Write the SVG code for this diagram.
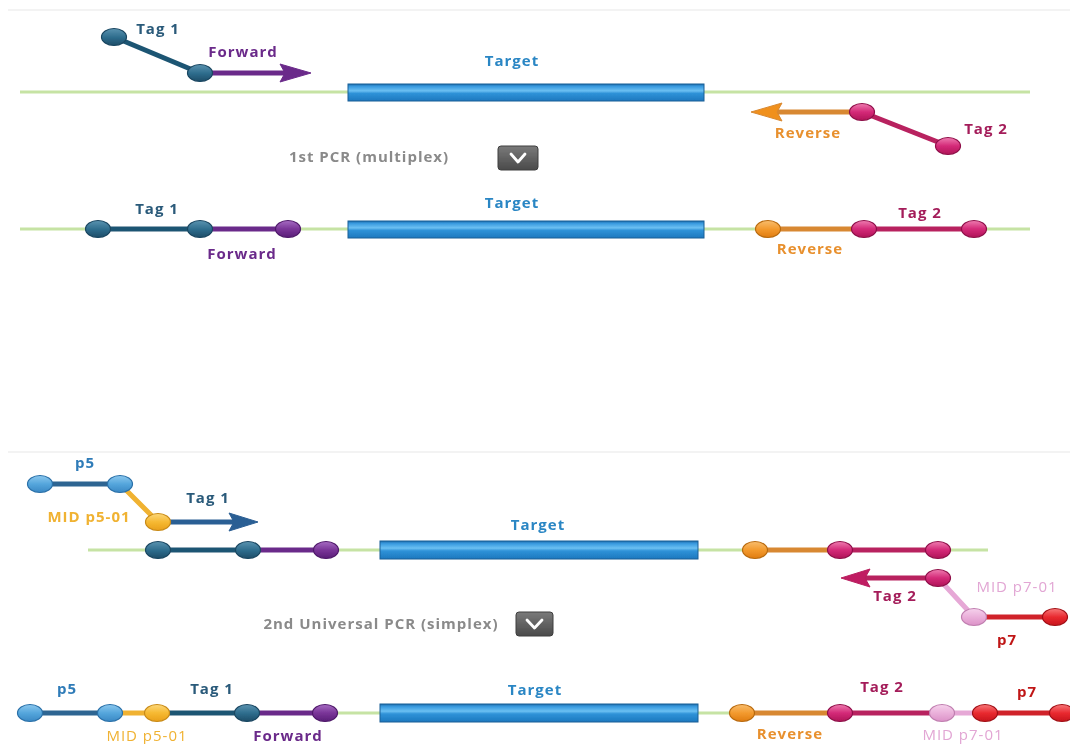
<svg xmlns="http://www.w3.org/2000/svg" width="1070" height="744" viewBox="0 0 1070 744">
  <defs>
    <linearGradient id="gTeal" x1="0" y1="0" x2="0" y2="1">
      <stop offset="0" stop-color="#5b93b0"/><stop offset="0.5" stop-color="#2f6e8e"/><stop offset="1" stop-color="#1c4d68"/>
    </linearGradient>
    <linearGradient id="gPurple" x1="0" y1="0" x2="0" y2="1">
      <stop offset="0" stop-color="#a66cc2"/><stop offset="0.5" stop-color="#7a3598"/><stop offset="1" stop-color="#5a1f78"/>
    </linearGradient>
    <linearGradient id="gOrange" x1="0" y1="0" x2="0" y2="1">
      <stop offset="0" stop-color="#f8bd6e"/><stop offset="0.5" stop-color="#f39a2e"/><stop offset="1" stop-color="#e07c10"/>
    </linearGradient>
    <linearGradient id="gMag" x1="0" y1="0" x2="0" y2="1">
      <stop offset="0" stop-color="#ee7cb0"/><stop offset="0.5" stop-color="#d42a78"/><stop offset="1" stop-color="#b01458"/>
    </linearGradient>
    <linearGradient id="gBlue" x1="0" y1="0" x2="0" y2="1">
      <stop offset="0" stop-color="#8cc8ee"/><stop offset="0.5" stop-color="#55a6dc"/><stop offset="1" stop-color="#3a88c4"/>
    </linearGradient>
    <linearGradient id="gYellow" x1="0" y1="0" x2="0" y2="1">
      <stop offset="0" stop-color="#fcd77a"/><stop offset="0.5" stop-color="#f6b932"/><stop offset="1" stop-color="#e9a01a"/>
    </linearGradient>
    <linearGradient id="gPink" x1="0" y1="0" x2="0" y2="1">
      <stop offset="0" stop-color="#f6d2ec"/><stop offset="0.5" stop-color="#eab0da"/><stop offset="1" stop-color="#dc92c8"/>
    </linearGradient>
    <linearGradient id="gRed" x1="0" y1="0" x2="0" y2="1">
      <stop offset="0" stop-color="#f7787a"/><stop offset="0.5" stop-color="#e92a30"/><stop offset="1" stop-color="#c8141c"/>
    </linearGradient>
    <linearGradient id="gTarget" x1="0" y1="0" x2="0" y2="1">
      <stop offset="0" stop-color="#1f6fae"/><stop offset="0.15" stop-color="#3a9be0"/><stop offset="0.4" stop-color="#6cc0f2"/><stop offset="0.55" stop-color="#2f92d8"/><stop offset="1" stop-color="#1c78be"/>
    </linearGradient>
    <linearGradient id="gBtn" x1="0" y1="0" x2="0" y2="1">
      <stop offset="0" stop-color="#7a7a7a"/><stop offset="1" stop-color="#4a4a4a"/>
    </linearGradient>
    <filter id="soft" x="-10%" y="-10%" width="120%" height="120%">
      <feGaussianBlur stdDeviation="0.6"/>
    </filter>
  </defs>
  <style>
    text { font-family: "Open Sans", "Liberation Sans", sans-serif; font-weight: bold; font-size: 15px; letter-spacing: 1px; text-anchor: middle; }
    .thin { font-weight: normal; }
    .base { stroke: #c6e3a4; stroke-width: 3; fill: none; }
    .sep { stroke: #efefef; stroke-width: 1.5; }
    .seg { stroke-width: 5; fill: none; stroke-linecap: round; }
    .tgt { fill: url(#gTarget); stroke: #1a5f96; stroke-width: 1; }
    .bead { stroke-width: 1.2; }
    .teal { fill: url(#gTeal); stroke: #1a4660; }
    .purple { fill: url(#gPurple); stroke: #4f1a6a; }
    .orange { fill: url(#gOrange); stroke: #b86a10; }
    .mag { fill: url(#gMag); stroke: #8e1048; }
    .blue { fill: url(#gBlue); stroke: #2a70a8; }
    .yellow { fill: url(#gYellow); stroke: #c88a18; }
    .pink { fill: url(#gPink); stroke: #c07fb0; }
    .red { fill: url(#gRed); stroke: #a01015; }
    .cTeal { stroke: #1e5573; fill: #1e5573; }
    .cPurple { stroke: #6b2a8a; fill: #6b2a8a; }
    .cOrange { stroke: #d88830; fill: #f0901e; }
    .cMag { stroke: #b8205f; fill: #c01a62; }
    .cBlue { stroke: #2c5f94; fill: #2c5f94; }
    .cP5 { stroke: #2d6592; }
    .cYel { stroke: #f0b232; }
    .cPink { stroke: #e6a8d6; }
    .cRed { stroke: #d0202a; }
    .tTag1 { fill: #2a5a7a; }
    .tFwd { fill: #6b2a8a; }
    .tTarget { fill: #2a86c4; }
    .tRev { fill: #e8902e; }
    .tTag2 { fill: #a41e5a; }
    .tP5 { fill: #2f7bb8; }
    .tMid5 { fill: #f0b232; }
    .tMid7 { fill: #e2a6d4; }
    .tP7 { fill: #c01818; }
    .tGray { fill: #8a8a8a; }
    .btn { fill: url(#gBtn); stroke: #3e3e3e; stroke-width: 1; }
    .chev { fill: none; stroke: #ffffff; stroke-width: 2.8; stroke-linecap: round; stroke-linejoin: round; }
  </style>

  <g filter="url(#soft)">
  <!-- panel separators -->
  <g id="separators">
    <line class="sep" x1="8" y1="10" x2="1070" y2="10"/>
    <line class="sep" x1="8" y1="452" x2="1070" y2="452"/>
  </g>

  <!-- template strands -->
  <g id="templates">
    <line class="base" x1="20" y1="92" x2="1030" y2="92"/>
    <line class="base" x1="20" y1="229" x2="1030" y2="229"/>
    <line class="base" x1="88" y1="550" x2="988" y2="550"/>
    <line class="base" x1="325" y1="713" x2="745" y2="713"/>
  </g>

  <!-- connectors (primer / tag segments and extension arrows) -->
  <g id="connectors">
    <!-- first PCR, primers -->
    <line class="seg cTeal" x1="114" y1="37" x2="200" y2="73"/>
    <line class="seg cPurple" x1="200" y1="73" x2="286" y2="73"/>
    <polygon class="cPurple" points="280,64 311,73 280,82 285,73" stroke-width="1"/>
    <line class="seg cOrange" x1="862" y1="112" x2="778" y2="112"/>
    <polygon class="cOrange" points="782,103 751,112 782,121 777,112" stroke-width="1"/>
    <line class="seg cMag" x1="862" y1="112" x2="948" y2="146"/>
    <!-- first PCR, product -->
    <line class="seg cTeal" x1="98" y1="229" x2="200" y2="229"/>
    <line class="seg cPurple" x1="200" y1="229" x2="288" y2="229"/>
    <line class="seg cOrange" x1="768" y1="229" x2="864" y2="229"/>
    <line class="seg cMag" x1="864" y1="229" x2="974" y2="229"/>
    <!-- second PCR, primers -->
    <line class="seg cP5" x1="40" y1="484" x2="120" y2="484"/>
    <line class="seg cYel" x1="120" y1="484" x2="158" y2="522"/>
    <line class="seg cBlue" x1="158" y1="522" x2="234" y2="522"/>
    <polygon class="cBlue" points="229,513 258,522 229,531 234,522" stroke-width="1"/>
    <line class="seg cTeal" x1="158" y1="550" x2="248" y2="550"/>
    <line class="seg cPurple" x1="248" y1="550" x2="326" y2="550"/>
    <line class="seg cOrange" x1="755" y1="550" x2="840" y2="550"/>
    <line class="seg cMag" x1="840" y1="550" x2="938" y2="550"/>
    <line class="seg cMag" x1="938" y1="578" x2="866" y2="578"/>
    <polygon class="cMag" points="870,569 841,578 870,587 865,578" stroke-width="1"/>
    <line class="seg cPink" x1="938" y1="578" x2="974" y2="617"/>
    <line class="seg cRed" x1="974" y1="617" x2="1055" y2="617"/>
    <!-- second PCR, product -->
    <line class="seg cP5" x1="30" y1="713" x2="110" y2="713"/>
    <line class="seg cYel" x1="110" y1="713" x2="157" y2="713"/>
    <line class="seg cTeal" x1="157" y1="713" x2="247" y2="713"/>
    <line class="seg cPurple" x1="247" y1="713" x2="325" y2="713"/>
    <line class="seg cOrange" x1="742" y1="713" x2="840" y2="713"/>
    <line class="seg cMag" x1="840" y1="713" x2="942" y2="713"/>
    <line class="seg cPink" x1="942" y1="713" x2="985" y2="713"/>
    <line class="seg cRed" x1="985" y1="713" x2="1062" y2="713"/>
  </g>

  <!-- target regions -->
  <g id="target-1">
    <rect class="tgt" x="348" y="84" width="356" height="17"/>
    <text class="tTarget" x="512" y="66">Target</text>
  </g>
  <g id="target-2">
    <rect class="tgt" x="348" y="221" width="356" height="17"/>
    <text class="tTarget" x="512" y="208">Target</text>
  </g>
  <g id="target-3">
    <rect class="tgt" x="380" y="541" width="318" height="18"/>
    <text class="tTarget" x="538" y="530">Target</text>
  </g>
  <g id="target-4">
    <rect class="tgt" x="380" y="704" width="318" height="18"/>
    <text class="tTarget" x="535" y="695">Target</text>
  </g>

  <!-- first PCR: primers -->
  <g id="tag1-primer">
    <ellipse class="bead teal" cx="114" cy="37" rx="12.5" ry="8.5"/>
    <ellipse class="bead teal" cx="200" cy="73" rx="12.5" ry="8.5"/>
    <text class="tTag1" x="158" y="34">Tag 1</text>
    <text class="tFwd" x="243" y="57">Forward</text>
  </g>
  <g id="tag2-primer">
    <ellipse class="bead mag" cx="862" cy="112" rx="12.5" ry="8.5"/>
    <ellipse class="bead mag" cx="948" cy="146" rx="12.5" ry="8.5"/>
    <text class="tRev" x="808" y="138">Reverse</text>
    <text class="tTag2" x="986" y="134">Tag 2</text>
  </g>

  <g id="step-1">
    <text class="tGray" x="369" y="162">1st PCR (multiplex)</text>
    <rect class="btn" x="498" y="146" width="40" height="24" rx="3"/>
    <polyline class="chev" points="511,154 518,162 525,154"/>
  </g>

  <!-- first PCR: product -->
  <g id="product-1">
    <ellipse class="bead teal" cx="98" cy="229" rx="12.5" ry="8.5"/>
    <ellipse class="bead teal" cx="200" cy="229" rx="12.5" ry="8.5"/>
    <ellipse class="bead purple" cx="288" cy="229" rx="12.5" ry="8.5"/>
    <ellipse class="bead orange" cx="768" cy="229" rx="12.5" ry="8.5"/>
    <ellipse class="bead mag" cx="864" cy="229" rx="12.5" ry="8.5"/>
    <ellipse class="bead mag" cx="974" cy="229" rx="12.5" ry="8.5"/>
    <text class="tTag1" x="157" y="214">Tag 1</text>
    <text class="tFwd" x="242" y="259">Forward</text>
    <text class="tRev" x="810" y="254">Reverse</text>
    <text class="tTag2" x="920" y="218">Tag 2</text>
  </g>

  <!-- second PCR: primers -->
  <g id="p5-primer">
    <ellipse class="bead blue" cx="40" cy="484" rx="12.5" ry="8.5"/>
    <ellipse class="bead blue" cx="120" cy="484" rx="12.5" ry="8.5"/>
    <ellipse class="bead yellow" cx="158" cy="522" rx="12.5" ry="8.5"/>
    <text class="tP5" x="85" y="468">p5</text>
    <text class="tMid5" x="89" y="522">MID p5-01</text>
    <text class="tTag1" x="208" y="503">Tag 1</text>
  </g>
  <g id="product-1b">
    <ellipse class="bead teal" cx="158" cy="550" rx="12.5" ry="8.5"/>
    <ellipse class="bead teal" cx="248" cy="550" rx="12.5" ry="8.5"/>
    <ellipse class="bead purple" cx="326" cy="550" rx="12.5" ry="8.5"/>
    <ellipse class="bead orange" cx="755" cy="550" rx="12.5" ry="8.5"/>
    <ellipse class="bead mag" cx="840" cy="550" rx="12.5" ry="8.5"/>
    <ellipse class="bead mag" cx="938" cy="550" rx="12.5" ry="8.5"/>
  </g>
  <g id="p7-primer">
    <ellipse class="bead mag" cx="938" cy="578" rx="12.5" ry="8.5"/>
    <ellipse class="bead pink" cx="974" cy="617" rx="12.5" ry="8.5"/>
    <ellipse class="bead red" cx="1055" cy="617" rx="12.5" ry="8.5"/>
    <text class="tTag2" x="895" y="601">Tag 2</text>
    <text class="tMid7 thin" x="1017" y="592">MID p7-01</text>
    <text class="tP7" x="1007" y="645">p7</text>
  </g>

  <g id="step-2">
    <text class="tGray" x="381" y="629">2nd Universal PCR (simplex)</text>
    <rect class="btn" x="516" y="612" width="37" height="24" rx="3"/>
    <polyline class="chev" points="527,620 534.5,628 542,620"/>
  </g>

  <!-- second PCR: final product -->
  <g id="product-2">
    <ellipse class="bead blue" cx="30" cy="713" rx="12.5" ry="8.5"/>
    <ellipse class="bead blue" cx="110" cy="713" rx="12.5" ry="8.5"/>
    <ellipse class="bead yellow" cx="157" cy="713" rx="12.5" ry="8.5"/>
    <ellipse class="bead teal" cx="247" cy="713" rx="12.5" ry="8.5"/>
    <ellipse class="bead purple" cx="325" cy="713" rx="12.5" ry="8.5"/>
    <ellipse class="bead orange" cx="742" cy="713" rx="12.5" ry="8.5"/>
    <ellipse class="bead mag" cx="840" cy="713" rx="12.5" ry="8.5"/>
    <ellipse class="bead pink" cx="942" cy="713" rx="12.5" ry="8.5"/>
    <ellipse class="bead red" cx="985" cy="713" rx="12.5" ry="8.5"/>
    <ellipse class="bead red" cx="1062" cy="713" rx="12.5" ry="8.5"/>
    <text class="tP5" x="67" y="694">p5</text>
    <text class="tTag1" x="212" y="694">Tag 1</text>
    <text class="tMid5 thin" x="147" y="741">MID p5-01</text>
    <text class="tFwd" x="288" y="741">Forward</text>
    <text class="tRev" x="790" y="739">Reverse</text>
    <text class="tTag2" x="882" y="692">Tag 2</text>
    <text class="tP7" x="1027" y="697">p7</text>
    <text class="tMid7 thin" x="963" y="740">MID p7-01</text>
  </g>
  </g>
</svg>
